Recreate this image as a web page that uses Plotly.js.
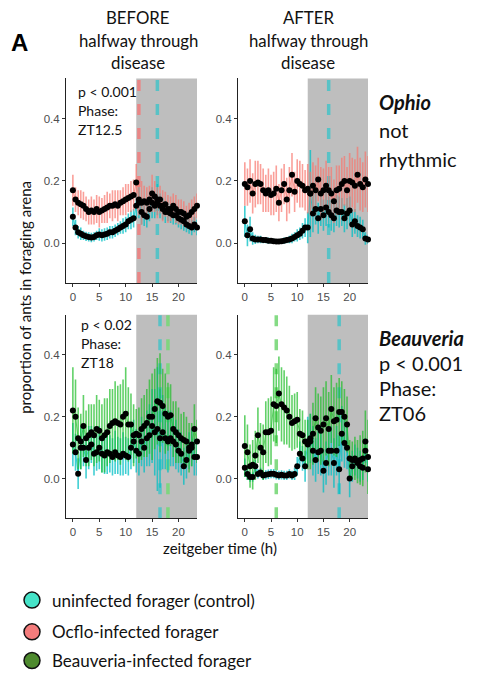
<!DOCTYPE html>
<html>
<head>
<meta charset="utf-8">
<script src="https://cdn.plot.ly/plotly-3.0.1.min.js"></script>
<style>html,body{margin:0;padding:0;background:#fff;}#chart{width:480px;height:679px;}</style>
</head>
<body>
<div id="chart"></div>
<script>
// zeitgeber time (h), half-hour bins
const zt = [0,0.5,1,1.5,2,2.5,3,3.5,4,4.5,5,5.5,6,6.5,7,7.5,8,8.5,9,9.5,10,10.5,11,11.5,
            12,12.5,13,13.5,14,14.5,15,15.5,16,16.5,17,17.5,18,18.5,19,19.5,20,20.5,21,21.5,22,22.5,23,23.5];

// Ophio, BEFORE halfway
const ophioBeforeCtrl = [0.085,0.05,0.035,0.03,0.025,0.022,0.02,0.018,0.02,0.025,0.028,0.025,0.028,0.03,0.035,0.035,0.04,0.045,0.05,0.055,0.06,0.07,0.075,0.08,
  0.12,0.13,0.1,0.09,0.085,0.11,0.13,0.12,0.14,0.12,0.11,0.1,0.1,0.095,0.09,0.09,0.08,0.075,0.07,0.06,0.055,0.05,0.06,0.05];
const ophioBeforeCtrlErr = [0.03,0.025,0.02,0.02,0.015,0.015,0.015,0.015,0.015,0.015,0.02,0.02,0.02,0.02,0.02,0.02,0.02,0.02,0.02,0.025,0.025,0.025,0.03,0.03,
  0.04,0.05,0.04,0.035,0.035,0.04,0.05,0.04,0.05,0.04,0.035,0.035,0.03,0.03,0.03,0.03,0.03,0.03,0.03,0.025,0.025,0.025,0.025,0.025];
const ophioBeforeInf = [0.17,0.14,0.13,0.125,0.12,0.11,0.1,0.105,0.1,0.11,0.1,0.105,0.11,0.115,0.12,0.12,0.125,0.12,0.13,0.135,0.14,0.145,0.15,0.155,
  0.195,0.14,0.13,0.135,0.13,0.14,0.16,0.15,0.13,0.14,0.12,0.125,0.11,0.11,0.12,0.11,0.1,0.1,0.095,0.085,0.09,0.1,0.11,0.12];
const ophioBeforeInfErr = [0.05,0.04,0.04,0.045,0.045,0.04,0.04,0.045,0.04,0.045,0.05,0.04,0.045,0.05,0.04,0.05,0.045,0.05,0.04,0.045,0.05,0.045,0.05,0.05,
  0.06,0.05,0.07,0.05,0.05,0.045,0.06,0.05,0.05,0.045,0.05,0.04,0.045,0.04,0.04,0.045,0.04,0.04,0.04,0.035,0.04,0.04,0.04,0.04];

// Ophio, AFTER halfway
const ophioAfterCtrl = [0.07,0.025,0.045,0.015,0.012,0.012,0.012,0.01,0.01,0.008,0.008,0.006,0.005,0.005,0.006,0.008,0.01,0.012,0.015,0.02,0.025,0.03,0.04,0.05,
  0.05,0.16,0.095,0.11,0.08,0.11,0.09,0.115,0.1,0.09,0.08,0.105,0.1,0.1,0.08,0.095,0.105,0.06,0.07,0.055,0.05,0.045,0.015,0.012];
const ophioAfterCtrlErr = [0.05,0.035,0.04,0.02,0.015,0.012,0.012,0.01,0.01,0.01,0.008,0.008,0.008,0.008,0.008,0.01,0.01,0.012,0.015,0.015,0.02,0.02,0.025,0.03,
  0.05,0.14,0.06,0.05,0.05,0.055,0.05,0.06,0.05,0.05,0.045,0.05,0.05,0.045,0.045,0.05,0.045,0.04,0.04,0.035,0.035,0.03,0.02,0.015];
const ophioAfterInf = [0.19,0.18,0.2,0.16,0.19,0.195,0.19,0.17,0.16,0.17,0.155,0.16,0.175,0.13,0.17,0.19,0.14,0.17,0.22,0.165,0.2,0.19,0.185,0.17,
  0.175,0.16,0.185,0.17,0.205,0.16,0.17,0.185,0.17,0.16,0.135,0.17,0.175,0.19,0.2,0.17,0.2,0.195,0.185,0.22,0.19,0.18,0.205,0.19];
const ophioAfterInfErr = [0.07,0.06,0.07,0.065,0.075,0.07,0.065,0.07,0.06,0.07,0.065,0.07,0.075,0.06,0.07,0.065,0.07,0.075,0.07,0.065,0.07,0.075,0.07,0.065,
  0.08,0.07,0.075,0.08,0.07,0.085,0.07,0.08,0.075,0.085,0.07,0.08,0.075,0.085,0.08,0.075,0.09,0.08,0.085,0.09,0.085,0.08,0.09,0.09];

// Beauveria, BEFORE halfway
const beauBeforeCtrl = [0.11,0.085,0.016,0.1,0.1,0.06,0.1,0.11,0.08,0.085,0.1,0.08,0.075,0.085,0.08,0.07,0.085,0.075,0.07,0.08,0.075,0.07,0.1,0.12,
  0.09,0.08,0.12,0.1,0.13,0.14,0.17,0.15,0.16,0.13,0.15,0.13,0.12,0.13,0.12,0.11,0.09,0.08,0.04,0.06,0.09,0.1,0.07,0.07];
const beauBeforeCtrlErr = [0.07,0.06,0.05,0.07,0.06,0.06,0.07,0.06,0.07,0.06,0.07,0.06,0.06,0.07,0.06,0.06,0.07,0.06,0.06,0.07,0.06,0.06,0.07,0.07,
  0.07,0.07,0.08,0.08,0.09,0.1,0.12,0.14,0.2,0.16,0.12,0.1,0.1,0.09,0.08,0.08,0.07,0.07,0.06,0.06,0.06,0.06,0.06,0.06];
const beauBeforeInf = [0.22,0.2,0.13,0.12,0.17,0.13,0.14,0.15,0.14,0.16,0.155,0.13,0.14,0.15,0.17,0.18,0.185,0.18,0.175,0.2,0.21,0.175,0.175,0.14,
  0.145,0.14,0.16,0.17,0.18,0.2,0.2,0.225,0.25,0.245,0.235,0.21,0.2,0.205,0.16,0.15,0.14,0.13,0.125,0.12,0.1,0.11,0.16,0.12];
const beauBeforeInfErr = [0.14,0.12,0.1,0.09,0.1,0.09,0.1,0.09,0.1,0.11,0.1,0.11,0.12,0.11,0.12,0.11,0.13,0.12,0.13,0.12,0.15,0.12,0.1,0.1,
  0.08,0.09,0.1,0.1,0.11,0.12,0.14,0.13,0.14,0.16,0.12,0.13,0.11,0.1,0.09,0.1,0.09,0.08,0.09,0.08,0.08,0.07,0.08,0.07];

// Beauveria, AFTER halfway
const beauAfterCtrl = [0.035,0.015,0.005,0.005,0.04,0.015,0.02,0.01,0.012,0.014,0.016,0.016,0.012,0.01,0.012,0.01,0.01,0.015,0.01,0.015,0.04,0.08,0.065,0.04,
  0.12,0.13,0.09,0.06,0.085,0.09,0.025,0.05,0.09,0.09,0.05,0.09,0.03,0.145,0.115,0.1,0.0,0.04,0.06,0.05,0.04,0.035,0.09,0.03];
const beauAfterCtrlErr = [0.03,0.02,0.015,0.015,0.02,0.015,0.015,0.015,0.015,0.015,0.015,0.015,0.015,0.015,0.015,0.015,0.015,0.015,0.015,0.02,0.03,0.04,0.04,0.05,
  0.08,0.08,0.08,0.07,0.07,0.08,0.07,0.07,0.08,0.08,0.08,0.08,0.08,0.09,0.08,0.07,0.06,0.05,0.05,0.05,0.05,0.04,0.04,0.04];
const beauAfterInf = [0.105,0.085,0.04,0.045,0.075,0.14,0.1,0.085,0.15,0.15,0.155,0.24,0.235,0.275,0.24,0.23,0.22,0.2,0.18,0.185,0.19,0.145,0.14,0.12,
  0.11,0.12,0.145,0.195,0.165,0.155,0.175,0.195,0.16,0.225,0.185,0.19,0.215,0.215,0.2,0.175,0.065,0.06,0.065,0.055,0.06,0.065,0.12,0.07];
const beauAfterInfErr = [0.1,0.09,0.07,0.08,0.08,0.09,0.08,0.09,0.1,0.11,0.11,0.12,0.12,0.12,0.12,0.12,0.11,0.1,0.09,0.09,0.09,0.08,0.08,0.07,
  0.08,0.09,0.1,0.1,0.11,0.11,0.12,0.12,0.12,0.11,0.11,0.12,0.11,0.1,0.09,0.09,0.06,0.06,0.07,0.07,0.08,0.09,0.1,0.12];

// Phase markers (ZT) per panel: [control, infected]; null = not rhythmic / not drawn
const phaseCtrl = [16, 16, 16.5, 18];
const phaseInf  = [12.5, null, 18, 6];
const nightPeriod = [12, 24];

// Tick labels
const xTicks = [0, 5, 10, 15, 20];
const yTicks = [0.0, 0.2, 0.4];

const legendLabels = ['uninfected forager (control)', 'Ocflo-infected forager', 'Beauveria-infected forager'];

// ---------- styling ----------
const CYAN = 'rgba(0,191,196,0.75)';
const RED = 'rgba(248,118,109,0.7)';
const GREEN = 'rgba(30,190,40,0.7)';
const CYAN_D = 'rgba(70,195,200,0.85)';
const RED_D = 'rgba(240,125,125,0.85)';
const GREEN_D = 'rgba(120,215,120,0.9)';

const panels = [
  {xa:'x',  ya:'y',  ctrl:ophioBeforeCtrl, cErr:ophioBeforeCtrlErr, inf:ophioBeforeInf, iErr:ophioBeforeInfErr, ic:RED,   icd:RED_D},
  {xa:'x2', ya:'y2', ctrl:ophioAfterCtrl,  cErr:ophioAfterCtrlErr,  inf:ophioAfterInf,  iErr:ophioAfterInfErr,  ic:RED,   icd:RED_D},
  {xa:'x3', ya:'y3', ctrl:beauBeforeCtrl,  cErr:beauBeforeCtrlErr,  inf:beauBeforeInf,  iErr:beauBeforeInfErr,  ic:GREEN, icd:GREEN_D},
  {xa:'x4', ya:'y4', ctrl:beauAfterCtrl,   cErr:beauAfterCtrlErr,   inf:beauAfterInf,   iErr:beauAfterInfErr,   ic:GREEN, icd:GREEN_D}
];

const traces = [];
const shapes = [];
panels.forEach((p, i) => {
  traces.push({x:zt, y:p.ctrl, xaxis:p.xa, yaxis:p.ya, mode:'lines', showlegend:false, hoverinfo:'skip',
    line:{color:CYAN, width:1},
    error_y:{type:'data', array:p.cErr, visible:true, color:CYAN, thickness:1.6, width:0}});
  traces.push({x:zt, y:p.inf, xaxis:p.xa, yaxis:p.ya, mode:'lines', showlegend:false, hoverinfo:'skip',
    line:{color:p.ic, width:1},
    error_y:{type:'data', array:p.iErr, visible:true, color:p.ic, thickness:1.6, width:0}});
  traces.push({x:zt, y:p.ctrl, xaxis:p.xa, yaxis:p.ya, mode:'markers', showlegend:false, cliponaxis:false,
    marker:{color:'#000', size:6}});
  traces.push({x:zt, y:p.inf, xaxis:p.xa, yaxis:p.ya, mode:'markers', showlegend:false, cliponaxis:false,
    marker:{color:'#000', size:6}});

  shapes.push({type:'rect', xref:p.xa, yref:p.ya + ' domain', x0:nightPeriod[0], x1:nightPeriod[1], y0:0, y1:1,
    fillcolor:'#BEBEBE', line:{width:0}, layer:'below'});
  if (phaseInf[i] !== null) {
    shapes.push({type:'line', xref:p.xa, yref:p.ya + ' domain', x0:phaseInf[i], x1:phaseInf[i], y0:0, y1:1,
      line:{color:p.icd, width:3.5, dash:'11px,13px'}, layer:'below'});
  }
  shapes.push({type:'line', xref:p.xa, yref:p.ya + ' domain', x0:phaseCtrl[i], x1:phaseCtrl[i], y0:0, y1:1,
    line:{color:CYAN_D, width:3.5, dash:'11px,13px'}, layer:'below'});
});

// legend-only traces
const legColors = ['#45E3C8', '#F47C7C', '#4E8A2E'];
legendLabels.forEach((lab, k) => {
  traces.push({x:[null], y:[null], mode:'markers', name:lab, legend: k === 0 ? 'legend' : 'legend' + (k+1),
    marker:{color:legColors[k], size:20, line:{color:'#111', width:1.5}}, hoverinfo:'skip'});
});

const xDomL = [66/480, 197/480], xDomR = [238/480, 368/480];
const yDomT = [1-285/679, 1-79/679], yDomB = [1-522/679, 1-317/679];
const xRange = [-1.3, 23.5], yRange = [-0.128, 0.53];

function xax(dom, anchor) {
  return {domain:dom, anchor:anchor, range:xRange, showgrid:false, zeroline:false, showline:true,
    linecolor:'#222', linewidth:1, ticks:'outside', ticklen:3, tickcolor:'#333', tickvals:xTicks,
    tickfont:{family:'Liberation Sans, Arial', size:11.5, color:'#4D4D4D'}, fixedrange:true};
}
function yax(dom, anchor) {
  return {domain:dom, anchor:anchor, range:yRange, showgrid:false, zeroline:false, showline:true,
    linecolor:'#222', linewidth:1, ticks:'outside', ticklen:3, tickcolor:'#333', tickvals:yTicks, tickformat:'.1f',
    tickfont:{family:'Liberation Sans, Arial', size:11.5, color:'#4D4D4D'}, fixedrange:true};
}

const F = 'Lato, Open Sans, sans-serif';
function ann(text, px, py, size, opts) {
  return Object.assign({text:text, xref:'paper', yref:'paper', x:px/480, y:1-py/679, showarrow:false,
    xanchor:'left', yanchor:'middle', font:{family:F, size:size, color:'#111'}}, opts||{});
}

const annotations = [
  ann('<b>A</b>', 19, 43, 24, {xanchor:'center', font:{family:'Liberation Sans, Arial', size:24, color:'#000'}}),
  ann('BEFORE', 138, 18, 16.8, {xanchor:'center'}),
  ann('halfway through', 138, 41, 16.8, {xanchor:'center'}),
  ann('disease', 138, 63, 16.8, {xanchor:'center'}),
  ann('AFTER', 308, 18, 16.8, {xanchor:'center'}),
  ann('halfway through', 308, 41, 16.8, {xanchor:'center'}),
  ann('disease', 308, 63, 16.8, {xanchor:'center'}),
  ann('<b><i>Ophio</i></b>', 377, 103, 20),
  ann('not', 377, 131, 20),
  ann('rhythmic', 377, 160, 20),
  ann('<b><i>Beauveria</i></b>', 377, 341, 20),
  ann('p < 0.001', 377, 366, 20),
  ann('Phase:', 377, 391, 20),
  ann('ZT06', 377, 416, 20),
  ann('p < 0.001', 76, 92, 14),
  ann('Phase:', 76, 111, 14),
  ann('ZT12.5', 76, 130, 14),
  ann('p < 0.02', 79, 327, 14),
  ann('Phase:', 79, 346, 14),
  ann('ZT18', 79, 365, 14),
  ann('proportion of ants in foraging arena', 25, 300, 15, {xanchor:'center', textangle:-90}),
  ann('zeitgeber time (h)', 220, 552, 15, {xanchor:'center'})
];

const legBase = {xanchor:'left', yanchor:'middle', x:12/480, bgcolor:'rgba(0,0,0,0)', borderwidth:0,
  font:{family:F, size:17, color:'#111'}, itemsizing:'trace'};

const layout = {
  width:480, height:679, margin:{l:0, r:0, t:0, b:0},
  paper_bgcolor:'#fff', plot_bgcolor:'#fff',
  xaxis:xax(xDomL,'y'), yaxis:yax(yDomT,'x'),
  xaxis2:xax(xDomR,'y2'), yaxis2:yax(yDomT,'x2'),
  xaxis3:xax(xDomL,'y3'), yaxis3:yax(yDomB,'x3'),
  xaxis4:xax(xDomR,'y4'), yaxis4:yax(yDomB,'x4'),
  shapes:shapes, annotations:annotations,
  showlegend:true,
  legend:Object.assign({}, legBase, {y:1-605/679}),
  legend2:Object.assign({}, legBase, {y:1-637/679}),
  legend3:Object.assign({}, legBase, {y:1-666/679})
};

Plotly.newPlot('chart', traces, layout, {displayModeBar:false, staticPlot:true});
</script>
</body>
</html>
